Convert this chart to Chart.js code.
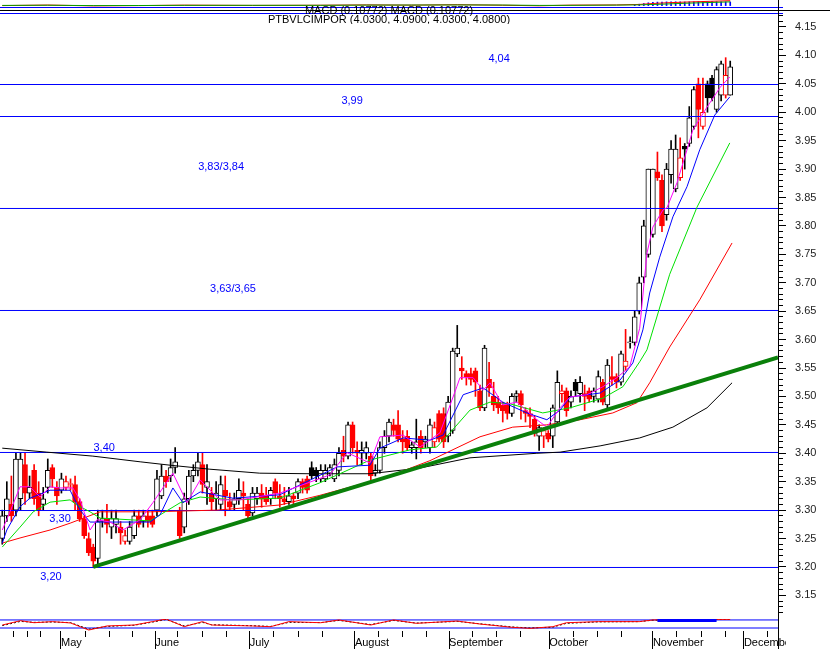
<!DOCTYPE html>
<html><head><meta charset="utf-8">
<script src="https://cdn.jsdelivr.net/npm/chart.js@4.4.1/dist/chart.umd.min.js"></script>
<style>
html,body{margin:0;padding:0;background:#fff;}
#wrap{position:relative;width:830px;height:649px;overflow:hidden;background:#fff;}
#wrap canvas{position:absolute;left:0;}
.hl{position:absolute;height:1px;}
</style></head><body>
<div id="wrap">
 <div class="hl" style="top:7px;left:0;width:783px;background:#0000ff"></div>
 <div class="hl" style="top:10px;left:0;width:830px;background:#000"></div>
 <div class="hl" style="top:13px;left:0;width:783px;background:#0000ff"></div>
 <div style="position:absolute;left:778px;top:0;width:1px;height:649px;background:#000"></div>
 <canvas id="main" width="830" height="649" style="top:0"></canvas>
 <canvas id="macd" width="830" height="24" style="top:0"></canvas>
 <canvas id="osc" width="786" height="37" style="top:612px"></canvas>
</div>
<script>
// ---------- DATA ----------
const titleText = ['MACD (0.10772) MACD (0.10772)', 'PTBVLCIMPOR (4.0300, 4.0900, 4.0300, 4.0800)'];
const monthNames = ['May', 'June', 'July', 'August', 'September', 'October', 'November', 'December'];
const monthDays = [12.9, 33.6, 54.4, 77.5, 98.2, 120.2, 143.0, 163.0];
const weekDays = [2.5, 5.5, 8.5, 18.2, 23.5, 28.7, 38.6, 43.9, 49.2, 59.7, 65.0, 70.3, 82.7, 88.0, 93.3, 103.4, 108.7, 114.0, 125.5, 130.8, 136.1, 148.3, 153.6, 158.9, 168.2];

const opens = [3.25,3.29,3.31,3.30,3.32,3.38,3.33,3.37,3.33,3.31,3.34,3.375,3.34,3.335,3.34,3.345,3.345,3.315,3.285,3.25,
3.235,3.215,3.28,3.285,3.27,3.275,3.27,3.245,3.245,3.255,3.29,3.28,3.29,3.29,3.30,3.325,3.36,3.36,3.375,3.30,
3.27,3.32,3.36,3.37,3.38,3.34,3.33,3.32,3.31,3.335,3.315,3.31,3.32,3.33,3.31,3.295,3.32,3.33,3.325,3.32,
3.35,3.325,3.32,3.315,3.325,3.33,3.35,3.355,3.375,3.37,3.355,3.355,3.365,3.355,3.37,3.405,3.395,3.45,3.405,3.40,
3.40,3.395,3.365,3.37,3.41,3.43,3.45,3.45,3.425,3.43,3.41,3.41,3.43,3.42,3.41,3.42,3.47,3.47,3.43,3.44,
3.575,3.55,3.54,3.54,3.545,3.51,3.48,3.53,3.50,3.49,3.485,3.485,3.47,3.50,3.505,3.475,3.47,3.46,3.43,3.43,
3.435,3.43,3.455,3.505,3.51,3.49,3.525,3.505,3.505,3.51,3.50,3.495,3.525,3.485,3.535,3.535,3.525,3.553,3.594,3.595,
3.65,3.71,3.75,3.785,3.895,3.88,3.82,3.89,3.865,3.885,3.94,3.945,3.975,4.05,3.975,4.05,4.06,4.005,4.03,4.03,
4.03];
const highs = [3.30,3.35,3.36,3.40,3.40,3.40,3.36,3.38,3.35,3.34,3.39,3.38,3.35,3.365,3.36,3.355,3.36,3.32,3.29,3.26,
3.24,3.30,3.30,3.31,3.30,3.30,3.28,3.265,3.28,3.30,3.30,3.30,3.30,3.30,3.37,3.38,3.37,3.39,3.41,3.305,
3.33,3.37,3.38,3.40,3.40,3.38,3.34,3.35,3.36,3.36,3.33,3.33,3.355,3.35,3.32,3.34,3.34,3.345,3.34,3.34,
3.355,3.345,3.34,3.34,3.33,3.355,3.355,3.36,3.385,3.375,3.38,3.38,3.38,3.39,3.41,3.43,3.455,3.455,3.42,3.42,
3.42,3.40,3.38,3.42,3.44,3.46,3.46,3.475,3.44,3.44,3.42,3.46,3.44,3.43,3.46,3.455,3.475,3.48,3.50,3.585,
3.625,3.57,3.545,3.55,3.55,3.52,3.59,3.56,3.525,3.50,3.49,3.49,3.505,3.51,3.51,3.48,3.48,3.465,3.45,3.445,
3.44,3.485,3.545,3.52,3.515,3.51,3.53,3.535,3.52,3.515,3.515,3.545,3.53,3.565,3.57,3.54,3.58,3.618,3.605,3.65,
3.71,3.81,3.90,3.90,3.93,3.89,3.91,3.95,3.96,3.955,3.945,4.01,4.045,4.06,4.06,4.055,4.065,4.08,4.09,4.096,
4.09];
const lows = [3.24,3.28,3.28,3.29,3.30,3.31,3.32,3.31,3.29,3.30,3.33,3.34,3.31,3.33,3.335,3.335,3.30,3.28,3.25,3.22,
3.20,3.205,3.27,3.26,3.25,3.26,3.24,3.24,3.24,3.25,3.27,3.27,3.27,3.27,3.29,3.32,3.34,3.35,3.365,3.25,
3.26,3.31,3.35,3.36,3.33,3.31,3.30,3.30,3.30,3.29,3.30,3.30,3.31,3.30,3.285,3.29,3.31,3.305,3.31,3.31,
3.32,3.305,3.31,3.31,3.31,3.32,3.33,3.33,3.355,3.35,3.35,3.35,3.36,3.35,3.36,3.385,3.39,3.40,3.38,3.38,
3.39,3.35,3.36,3.365,3.40,3.42,3.43,3.42,3.40,3.405,3.40,3.39,3.40,3.41,3.40,3.41,3.42,3.41,3.42,3.435,
3.57,3.53,3.52,3.52,3.50,3.475,3.475,3.50,3.475,3.47,3.455,3.46,3.465,3.49,3.46,3.455,3.445,3.43,3.405,3.41,
3.42,3.41,3.45,3.49,3.465,3.48,3.50,3.49,3.475,3.49,3.49,3.49,3.485,3.48,3.52,3.515,3.52,3.545,3.585,3.59,
3.645,3.70,3.745,3.78,3.88,3.79,3.81,3.875,3.86,3.88,3.90,3.94,3.97,3.955,3.97,4.00,4.02,4.00,4.02,4.025,
4.03];
const closes = [3.29,3.32,3.29,3.39,3.39,3.33,3.34,3.32,3.30,3.32,3.37,3.355,3.325,3.355,3.35,3.345,3.315,3.285,3.255,3.225,
3.21,3.28,3.285,3.275,3.285,3.285,3.26,3.255,3.27,3.29,3.275,3.29,3.28,3.275,3.355,3.36,3.35,3.375,3.385,3.255,
3.32,3.36,3.37,3.385,3.345,3.35,3.315,3.33,3.345,3.325,3.305,3.32,3.335,3.325,3.29,3.33,3.33,3.32,3.315,3.335,
3.33,3.32,3.315,3.325,3.32,3.35,3.34,3.335,3.36,3.36,3.37,3.37,3.375,3.38,3.40,3.395,3.45,3.41,3.40,3.405,
3.41,3.36,3.37,3.41,3.43,3.455,3.44,3.425,3.42,3.41,3.415,3.42,3.41,3.425,3.45,3.445,3.425,3.42,3.49,3.58,
3.585,3.545,3.535,3.53,3.525,3.48,3.585,3.515,3.485,3.48,3.475,3.47,3.50,3.505,3.485,3.47,3.465,3.435,3.445,3.44,
3.425,3.48,3.525,3.51,3.475,3.50,3.51,3.525,3.50,3.495,3.51,3.535,3.49,3.555,3.53,3.525,3.575,3.562,3.596,3.64,
3.70,3.80,3.90,3.90,3.885,3.80,3.90,3.935,3.935,3.92,3.935,3.99,4.04,4.005,4.00,4.025,4.025,4.075,4.085,4.065,
4.08];

// moving averages (day index, price)
const maMagDay = [0,1.7,3.9,6.1,8.3,10.5,12.7,15.5,17.1,19.3,20.8,23.7,26.5,30.3,33.1,37.5,40.6,43.5,47.8,52.2,61.0,72.0,75.8,80.8,83.0,88.1,91.8,96.2,99.9,100.6,103.5,105.7,107.2,110.0,113.1,117.5,119.7,122.6,124.8,128.5,132.0,135.1,137.9,140.1,141.7,143.0,145.2,146.1,148.3,150.5,151.8,154.9,157.8,159.9];
const maMag = [3.265,3.297,3.341,3.341,3.323,3.341,3.339,3.339,3.318,3.265,3.283,3.279,3.265,3.283,3.313,3.365,3.313,3.353,3.318,3.318,3.330,3.362,3.401,3.383,3.429,3.432,3.411,3.436,3.517,3.533,3.533,3.511,3.524,3.485,3.490,3.459,3.446,3.480,3.499,3.503,3.517,3.533,3.552,3.620,3.752,3.798,3.828,3.832,3.876,3.934,3.969,4.009,4.044,4.062];
const maBlueDay = [0,1.0,3.9,6.1,10.5,14.9,17.1,19.3,32.5,34.7,37.5,39.7,43.5,50.7,61.0,73.6,80.8,83.0,88.1,94.0,96.9,101.3,105.7,110.0,115.3,119.7,122.6,124.8,131.4,135.8,138.6,140.8,142.3,144.5,147.4,150.5,153.3,156.6,159.9];
const maBlue = [3.242,3.265,3.306,3.321,3.335,3.335,3.300,3.279,3.279,3.292,3.339,3.313,3.332,3.321,3.327,3.376,3.379,3.409,3.427,3.423,3.432,3.503,3.515,3.490,3.471,3.459,3.476,3.499,3.506,3.529,3.559,3.617,3.682,3.745,3.816,3.869,3.934,3.995,4.027];
const maGreenDay = [0,3.9,6.8,10.5,14.9,16.4,19.3,21.5,32.5,39.1,43.5,50.7,61.0,69.8,80.8,89.6,95.5,98.4,102.8,107.2,111.6,118.8,124.8,132.0,136.4,140.1,141.7,146.7,152.7,159.9];
const maGreen = [3.235,3.270,3.297,3.314,3.318,3.309,3.297,3.286,3.281,3.313,3.323,3.318,3.321,3.348,3.388,3.406,3.411,3.436,3.476,3.490,3.487,3.471,3.480,3.497,3.517,3.561,3.582,3.715,3.833,3.946];
const maRedDay = [0,3.9,10.5,14.9,21.5,32.5,47.2,61.0,69.8,84.5,94.0,105.0,112.2,119.7,127.0,134.2,139.5,142.3,146.7,153.3,160.4];
const maRed = [3.242,3.251,3.265,3.277,3.297,3.297,3.300,3.309,3.326,3.358,3.387,3.429,3.446,3.450,3.459,3.471,3.489,3.524,3.587,3.670,3.770];
const maBlackDay = [0,9.8,19.9,30.3,36.9,45.6,56.6,67.6,80.8,91.8,102.8,117.5,122.6,131.4,140.1,147.4,154.9,160.4];
const maBlack = [3.409,3.402,3.395,3.385,3.379,3.372,3.365,3.364,3.364,3.374,3.392,3.400,3.402,3.413,3.427,3.446,3.480,3.524];

const trendDay = [20, 170.5];
const trendPrice = [3.200, 3.5685];

const levels = [4.0488, 3.9925, 3.8307, 3.6512, 3.4014, 3.2993, 3.1991];
const annText = ['4,04', '3,99', '3,83/3,84', '3,63/3,65', '3,40', '3,30', '3,20'];
const annDay = [109.2, 76.9, 48.1, 50.7, 22.4, 12.7, 10.7];
const annPrice = [4.094, 4.020, 3.904, 3.689, 3.409, 3.284, 3.182];

// MACD strip
const macdDay = [0,10,20,30,40,55,70,80,90,100,110,118,125,135,140,143,146,150,155,160];
const macdVal = [0.000,0.012,-0.006,0.000,0.010,0.004,0.008,0.015,0.010,0.020,0.008,-0.004,0.010,0.014,0.025,0.045,0.060,0.075,0.090,0.105];
const signalDay = [0,10,20,30,40,55,70,80,90,100,110,118,125,135,140,145,150,155,160];
const signalVal = [0.004,0.008,0.000,0.002,0.006,0.006,0.006,0.011,0.012,0.014,0.012,0.004,0.006,0.011,0.016,0.030,0.050,0.065,0.080];
const histDay = [139,140,141,142,143,144,145,146,147,148,149,150,151,152,153,154,155,156,157,158,159,160];
const histVal = [0.020,0.030,0.045,0.060,0.070,0.075,0.078,0.080,0.080,0.082,0.080,0.078,0.080,0.082,0.084,0.085,0.085,0.084,0.083,0.082,0.080,0.078];

// lower oscillator strip (0..100)
const oscDay = [0,4,7,11,15,19,23,29,33,36,40,44,46,55,59,63,70,74,81,86,91,100,105,112,116,121,124,131,140,143,157,160];
const oscRed = [50,86,69,78,67,8,42,50,78,100,36,78,50,42,36,78,69,92,50,92,64,83,58,31,22,36,69,78,78,92,97,97];
const oscBlack = [45,80,72,75,70,15,38,48,74,96,42,72,52,44,38,72,70,88,54,88,66,80,60,34,25,32,64,76,78,90,96,97];
const oscLevels = [92, 25];
const oscBandDay = [144, 157];
const oscBandVal = [92, 92];

// ---------- BUILD ----------
const xMin = -0.5, xMax = 170.5;
const yMin = 3.1102, yMax = 4.1746;
const FONT = 'Liberation Sans, Arial, sans-serif';
const pts = (d, v) => d.map((x, i) => ({x: x, y: v[i]}));

const wickData = [], bodyData = [], edgeCol = [], fillCol = [];
for (let i = 0; i < closes.length; i++) {
  const o = opens[i], c = closes[i], pc = i > 0 ? closes[i - 1] : o;
  let e, f;
  if (c >= o) { e = c >= pc ? '#000000' : '#ff0000'; f = '#ffffff'; }
  else { e = c < pc ? '#ff0000' : '#000000'; f = e; }
  wickData.push({x: i, y: [lows[i], highs[i]]});
  bodyData.push({x: i, y: [o, c]});
  edgeCol.push(e); fillCol.push(f);
}

const lineDs = (data, color, width, order, extra) => Object.assign({
  type: 'line', data: data, borderColor: color, borderWidth: width, pointRadius: 0,
  tension: 0, fill: false, order: order
}, extra || {});

const isMajor = v => Math.abs(v * 20 - Math.round(v * 20)) < 1e-6;

const annPlugin = {
  id: 'levelText',
  afterDatasetsDraw(chart) {
    const {ctx, scales: {x, y}} = chart;
    ctx.save();
    ctx.font = '11px ' + FONT;
    ctx.fillStyle = '#0000ff';
    ctx.textAlign = 'center';
    ctx.textBaseline = 'middle';
    annText.forEach((t, k) => ctx.fillText(t, x.getPixelForValue(annDay[k]), y.getPixelForValue(annPrice[k])));
    ctx.restore();
  }
};

const datasets = [
  {type: 'bar', data: wickData, backgroundColor: edgeCol, borderWidth: 0, barThickness: 1, grouped: false, order: 20},
  {type: 'bar', data: bodyData, backgroundColor: fillCol, borderColor: edgeCol, borderWidth: 1, borderSkipped: false,
   barThickness: 5, minBarLength: 1, grouped: false, order: 19}
];
levels.forEach(L => datasets.push(lineDs([{x: xMin, y: L}, {x: xMax, y: L}], '#0000ff', 1, 10)));
datasets.push(lineDs(pts(maBlackDay, maBlack), '#000000', 1, 6));
datasets.push(lineDs(pts(maRedDay, maRed), '#ff0000', 1, 5));
datasets.push(lineDs(pts(maGreenDay, maGreen), '#00e000', 1, 4));
datasets.push(lineDs(pts(maBlueDay, maBlue), '#0000ff', 1, 3));
datasets.push(lineDs(pts(maMagDay, maMag), '#ff00ff', 1, 2));
datasets.push(lineDs(pts(trendDay, trendPrice), '#0a800a', 4, 1));

new Chart(document.getElementById('main'), {
  type: 'bar',
  data: {datasets: datasets},
  plugins: [annPlugin],
  options: {
    responsive: false, animation: false, devicePixelRatio: 1,
    layout: {padding: {top: 13, bottom: 31, left: 0, right: 0}},
    plugins: {legend: {display: false}, tooltip: {enabled: false}, title: {display: false}},
    scales: {
      x: {type: 'linear', display: false, min: xMin, max: xMax, offset: false},
      y: {
        position: 'right', min: yMin, max: yMax,
        afterFit: s => { s.width = 52; s.paddingTop = 0; s.paddingBottom = 0; },
        border: {display: true, color: '#000', width: 1},
        grid: {display: true, drawOnChartArea: false, drawTicks: true, tickLength: 8, tickColor: '#000', tickWidth: 1,
               tickBorderDash: ctx => (ctx.tick && isMajor(ctx.tick.value)) ? [] : [4, 40]},
        ticks: {stepSize: 0.01, autoSkip: false, includeBounds: false, padding: 9, color: '#222',
                font: {family: FONT, size: 11}, callback: v => isMajor(v) ? v.toFixed(2) : ''}
      }
    }
  }
});

new Chart(document.getElementById('macd'), {
  type: 'bar',
  data: {datasets: [
    {type: 'bar', data: pts(histDay, histVal), backgroundColor: '#0000ff', barThickness: 1, grouped: false, order: 3},
    lineDs(pts(macdDay, macdVal), '#ff0000', 1, 2),
    lineDs(pts(signalDay, signalVal), '#00a000', 1, 1)
  ]},
  options: {
    responsive: false, animation: false, devicePixelRatio: 1,
    layout: {padding: {top: 0, bottom: 0, left: 0, right: 52}},
    plugins: {legend: {display: false}, tooltip: {enabled: false},
      title: {display: true, position: 'bottom', fullSize: false, text: titleText, color: '#000',
              font: {family: FONT, size: 11, weight: 'normal', lineHeight: '9px'}, padding: {top: -1, bottom: 0}}},
    scales: {
      x: {type: 'linear', display: false, min: xMin, max: xMax, offset: false},
      y: {display: false, min: -0.03, max: 0.12}
    }
  }
});

const allTicks = monthDays.concat(weekDays).sort((a, b) => a - b);
const isMonth = v => monthDays.indexOf(v) >= 0;

new Chart(document.getElementById('osc'), {
  type: 'line',
  data: {datasets: [
    lineDs([{x: xMin, y: oscLevels[0]}, {x: xMax, y: oscLevels[0]}], '#0000ff', 1, 5),
    lineDs([{x: xMin, y: oscLevels[1]}, {x: xMax, y: oscLevels[1]}], '#0000ff', 1, 5),
    lineDs(pts(oscDay, oscBlack), '#000000', 1, 3, {borderDash: [2, 2]}),
    lineDs(pts(oscDay, oscRed), '#ff0000', 1, 2),
    lineDs(pts(oscBandDay, oscBandVal), '#0000ff', 4, 1)
  ]},
  options: {
    responsive: false, animation: false, devicePixelRatio: 1,
    layout: {padding: {top: 7, bottom: 0, left: 0, right: 8}},
    plugins: {legend: {display: false}, tooltip: {enabled: false}},
    scales: {
      x: {
        type: 'linear', min: xMin, max: xMax, offset: false, position: 'bottom',
        afterBuildTicks: s => { s.ticks = allTicks.map(v => ({value: v})); },
        afterFit: s => { s.height = 18; s.paddingLeft = 0; s.paddingRight = 0; },
        border: {display: false},
        grid: {display: true, drawOnChartArea: false, drawTicks: true, tickLength: 18, tickColor: '#000', tickWidth: 1,
               tickBorderDash: ctx => (ctx.tick && isMonth(ctx.tick.value)) ? [] : [6, 40]},
        ticks: {autoSkip: false, maxRotation: 0, minRotation: 0, align: 'start', padding: -13, color: '#000',
                font: {family: FONT, size: 11}, callback: v => isMonth(v) ? monthNames[monthDays.indexOf(v)] : ''}
      },
      y: {display: false, min: 0, max: 100}
    }
  }
});
</script>
</body></html>
